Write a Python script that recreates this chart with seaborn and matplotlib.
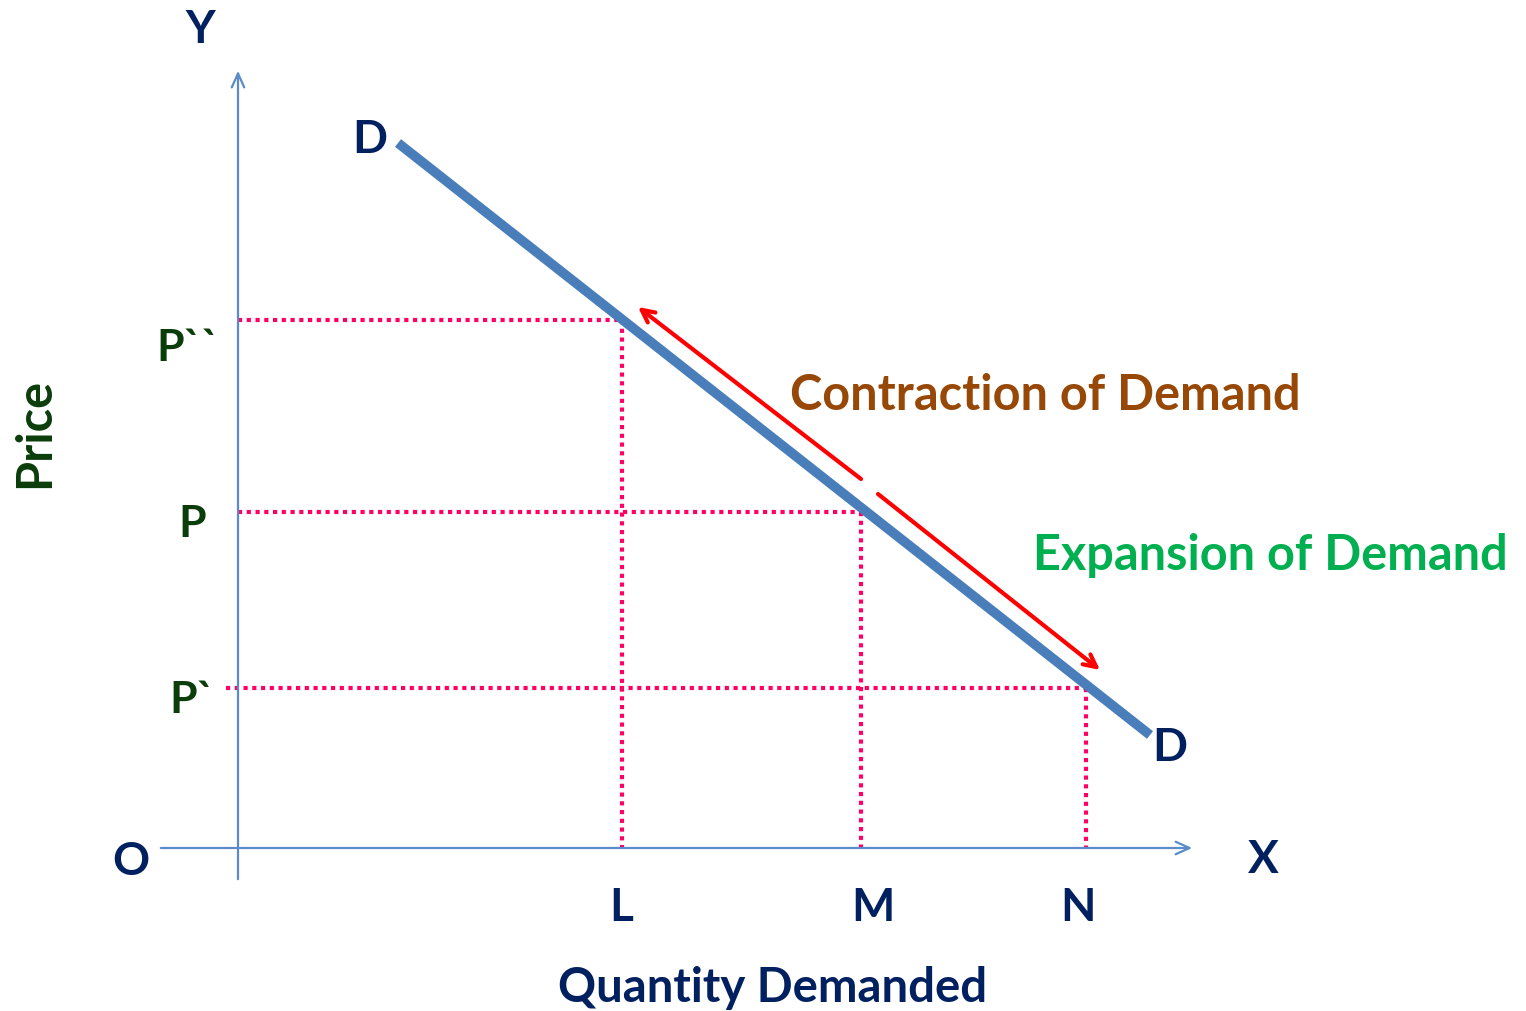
import matplotlib
matplotlib.use("Agg")
import matplotlib.pyplot as plt
import seaborn as sns
import pandas as pd

# values (data units ~ pixels from origin O)
quantity_ticks = ["L", "M", "N"]
quantity_vals = [384, 623, 848]
price_ticks = ["P``", "P", "P`"]
price_vals = [528, 336, 160]

# demand curve D-D
demand_q = [160, 912]
demand_p = [705, 113]

# red movement arrow (two parts with a small break)
contraction_from = (623, 369)
contraction_to = (400, 541)
expansion_from = (640, 354)
expansion_to = (862, 178)

x_axis_range = [-80, 957]
y_axis_range = [-34, 780]

navy = "#002060"
dark_green = "#0B3D0B"
axis_blue = "#5B8BC9"
demand_blue = "#4A7EBB"
pink = "#FF0066"

sns.set_style("white")
plt.rcParams["font.family"] = ["Lato", "DejaVu Sans"]

fig = plt.figure(figsize=(15.26, 10.11), dpi=100)
ax = fig.add_axes([0, 0, 1, 1])

# axes with open arrowheads
ax.annotate("", xy=(x_axis_range[1], 0), xytext=(x_axis_range[0], 0),
            arrowprops=dict(arrowstyle="->,head_length=1.0,head_width=0.45",
                            color=axis_blue, lw=1.6))
ax.annotate("", xy=(0, y_axis_range[1]), xytext=(0, y_axis_range[0]),
            arrowprops=dict(arrowstyle="->,head_length=1.0,head_width=0.45",
                            color=axis_blue, lw=1.6))

# dotted guide lines
for q, p in zip(quantity_vals, price_vals):
    h = pd.DataFrame({"q": [-12 if p == price_vals[2] else 0, q], "p": [p, p]})
    v = pd.DataFrame({"q": [q, q], "p": [p, 0]})
    sns.lineplot(data=h, x="q", y="p", ax=ax, color=pink, lw=3.0,
                 estimator=None, sort=False)
    sns.lineplot(data=v, x="q", y="p", ax=ax, color=pink, lw=3.0,
                 estimator=None, sort=False)
for ln in ax.lines:
    ln.set_dashes((1.0, 1.1))
    ln.set_dash_capstyle("butt")

# demand curve
demand = pd.DataFrame({"q": demand_q, "p": demand_p})
sns.lineplot(data=demand, x="q", y="p", ax=ax, color=demand_blue, lw=7,
             estimator=None, sort=False, solid_capstyle="butt")

# movement arrows
for start, end in [(contraction_from, contraction_to), (expansion_from, expansion_to)]:
    ax.annotate("", xy=end, xytext=start,
                arrowprops=dict(arrowstyle="->,head_length=0.9,head_width=0.45",
                                color="red", lw=3, shrinkA=0, shrinkB=0))
ax.set_xlim(-238, 1288)
ax.set_ylim(-163, 848)
ax.axis("off")

bold = dict(fontweight="bold", ha="center", va="center")
ax.text(-38, 818, "Y", color=navy, fontsize=33, **bold)
ax.text(1025, -12, "X", color=navy, fontsize=33, **bold)
ax.text(-107, -14, "O", color=navy, fontsize=33, **bold)
ax.text(132, 708, "D", color=navy, fontsize=33, **bold)
ax.text(932, 100, "D", color=navy, fontsize=33, **bold)

label_q = [383, 635, 840]
for name, lq in zip(quantity_ticks, label_q):
    ax.text(lq, -60, name, color=navy, fontsize=33, **bold)

label_x = [-50, -46, -46]
label_y = [500, 324, 148]
for name, lx, ly in zip(price_ticks, label_x, label_y):
    ax.text(lx, ly, name, color=dark_green, fontsize=32, **bold)

ax.text(535, -140, "Quantity Demanded", color=navy, fontsize=34, **bold)
ax.text(-203, 415, "Price", color=dark_green, fontsize=35, rotation=90, **bold)
ax.text(807, 452, "Contraction of Demand", color="#974806", fontsize=35, **bold)
ax.text(1032, 292, "Expansion of Demand", color="#00B050", fontsize=35, **bold)

fig.savefig("out.png", dpi=100)
